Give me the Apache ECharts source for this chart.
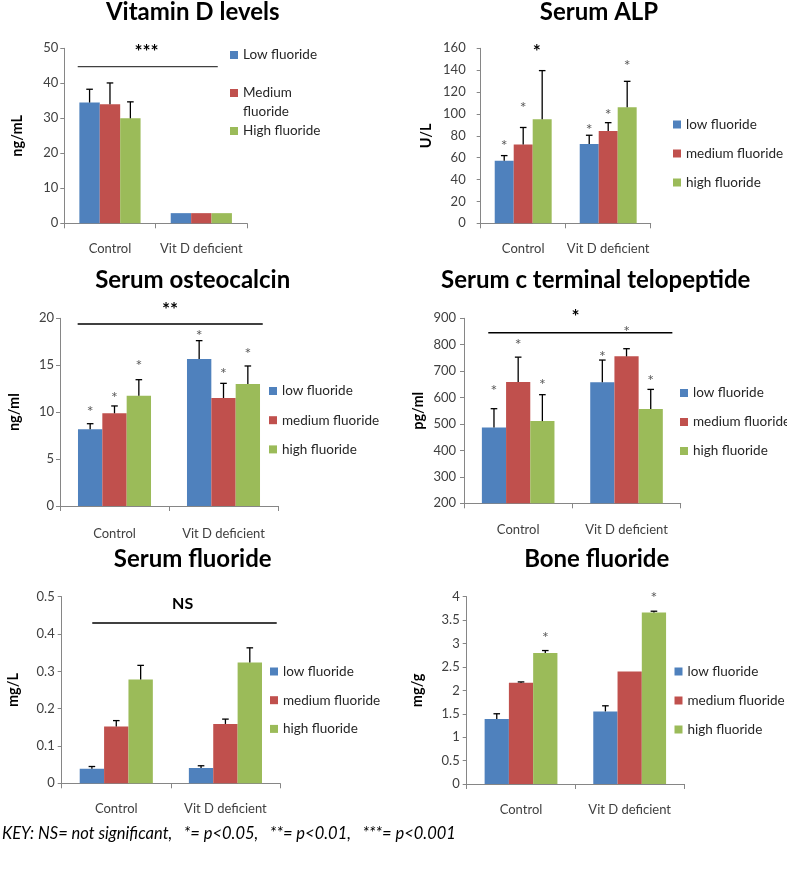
<!DOCTYPE html>
<html><head><meta charset="utf-8">
<script src="https://cdn.jsdelivr.net/npm/echarts@6/dist/echarts.min.js"></script>
<style>html,body{margin:0;padding:0;background:#fff}#c{width:787px;height:871px}</style>
</head><body><div id="c"></div>
<script>
// ---------- DATA ----------
const categories = ['Control', 'Vit D deficient'];
const namesCap = ['Low fluoride', 'Medium fluoride', 'High fluoride'];
const namesLow = ['low fluoride', 'medium fluoride', 'high fluoride'];

// Vitamin D levels (ng/mL)
const vitD_low = [34.5, 2.9];
const vitD_med = [34.0, 2.9];
const vitD_high = [30.0, 2.9];
const vitD_errLow = [38.3, null];
const vitD_errMed = [40.1, null];
const vitD_errHigh = [34.7, null];

// Serum ALP (U/L)
const alp_low = [57.3, 72.6];
const alp_med = [72.0, 84.4];
const alp_high = [95.2, 106.2];
const alp_errLow = [61.9, 80.5];
const alp_errMed = [87.6, 92.0];
const alp_errHigh = [139.6, 129.8];
const alp_starLow = [74.6, 89.0];
const alp_starMed = [108.8, 102.7];
const alp_starHigh = [null, 147.2];

// Serum osteocalcin (ng/ml)
const oc_low = [8.17, 15.67];
const oc_med = [9.88, 11.51];
const oc_high = [11.76, 13.0];
const oc_errLow = [8.77, 17.62];
const oc_errMed = [10.66, 13.07];
const oc_errHigh = [13.46, 14.92];
const oc_starLow = [10.41, 18.58];
const oc_starMed = [12.0, 14.56];
const oc_starHigh = [15.35, 16.62];

// Serum c terminal telopeptide (pg/ml)
const ctx_low = [487, 658];
const ctx_med = [659, 756];
const ctx_high = [511, 557];
const ctx_errLow = [558, 742];
const ctx_errMed = [753, 785];
const ctx_errHigh = [611, 631];
const ctx_starLow = [640, 771];
const ctx_starMed = [815, 863];
const ctx_starHigh = [664, 680];

// Serum fluoride (mg/L)
const sf_low = [0.039, 0.041];
const sf_med = [0.152, 0.159];
const sf_high = [0.278, 0.324];
const sf_errLow = [0.045, 0.047];
const sf_errMed = [0.168, 0.172];
const sf_errHigh = [0.316, 0.363];

// Bone fluoride (mg/g)
const bf_low = [1.39, 1.55];
const bf_med = [2.16, 2.40];
const bf_high = [2.80, 3.66];
const bf_errLow = [1.50, 1.67];
const bf_errMed = [2.18, null];
const bf_errHigh = [2.85, 3.69];
const bf_starHigh = [3.197, 4.07];

// Significance annotations (category-fraction positions relative to first category, value positions)
const vitD_sig = { x0: -0.353, x1: 1.18, y: 44.76, label: '***', lx: 0.40, ly: 50.45 };
const alp_sig = { x0: null, x1: null, y: null, label: '*', lx: 0.16, ly: 161.5 };
const oc_sig = { x0: -0.338, x1: 1.36, y: 19.4, label: '**', lx: 0.509, ly: 21.4 };
const ctx_sig = { x0: -0.276, x1: 1.423, y: 845.5, label: '*', lx: 0.53, ly: 925 };
const sf_sig = { x0: -0.22, x1: 1.47, y: 0.4295, label: 'NS', lx: 0.608, ly: 0.4804 };

// Axis ticks
const vitD_axis = { min: 0, max: 50, interval: 10 };
const alp_axis = { min: 0, max: 160, interval: 20 };
const oc_axis = { min: 0, max: 20, interval: 5 };
const ctx_axis = { min: 200, max: 900, interval: 100 };
const sf_axis = { min: 0, max: 0.5, interval: 0.1 };
const bf_axis = { min: 0, max: 4, interval: 0.5 };

const keyText = 'KEY: NS= not significant,   *= p<0.05,   **= p<0.01,   ***= p<0.001';

// ---------- PANELS ----------
const panels = [
  { title: 'Vitamin D levels', unit: 'ng/mL', names: namesCap, axis: vitD_axis,
    vals: [vitD_low, vitD_med, vitD_high], errs: [vitD_errLow, vitD_errMed, vitD_errHigh], stars: null, sig: vitD_sig },
  { title: 'Serum ALP', unit: 'U/L', names: namesLow, axis: alp_axis,
    vals: [alp_low, alp_med, alp_high], errs: [alp_errLow, alp_errMed, alp_errHigh], stars: [alp_starLow, alp_starMed, alp_starHigh], sig: alp_sig },
  { title: 'Serum osteocalcin', unit: 'ng/ml', names: namesLow, axis: oc_axis,
    vals: [oc_low, oc_med, oc_high], errs: [oc_errLow, oc_errMed, oc_errHigh], stars: [oc_starLow, oc_starMed, oc_starHigh], sig: oc_sig },
  { title: 'Serum c terminal telopeptide', unit: 'pg/ml', names: namesLow, axis: ctx_axis,
    vals: [ctx_low, ctx_med, ctx_high], errs: [ctx_errLow, ctx_errMed, ctx_errHigh], stars: [ctx_starLow, ctx_starMed, ctx_starHigh], sig: ctx_sig },
  { title: 'Serum fluoride', unit: 'mg/L', names: namesLow, axis: sf_axis,
    vals: [sf_low, sf_med, sf_high], errs: [sf_errLow, sf_errMed, sf_errHigh], stars: null, sig: sf_sig },
  { title: 'Bone fluoride', unit: 'mg/g', names: namesLow, axis: bf_axis,
    vals: [bf_low, bf_med, bf_high], errs: [bf_errLow, bf_errMed, bf_errHigh], stars: [[null, null], [null, null], bf_starHigh], sig: null }
];

// ---------- LAYOUT ----------
const layout = [
  { grid: [64.3, 48.3, 182.7, 175], title: [192.7, 0], legend: [230, 45.5, 19, 19], nameGap: 39, lblMargin: 6, xMargin: 19, sigColor: '#404040' },
  { grid: [480.7, 48.3, 170, 175], title: [599, 0], legend: [673, 116.5, 16, 13], nameGap: 46.7, lblMargin: 15, xMargin: 19, sigColor: '#000' },
  { grid: [60, 318.3, 218, 187.7], title: [192.7, 268], legend: [269, 383, 16, 13.2], nameGap: 38, lblMargin: 6, xMargin: 21, sigColor: '#000' },
  { grid: [464, 318.3, 216.7, 185], title: [595.7, 268], legend: [680, 385, 16, 13], nameGap: 38, lblMargin: 8, xMargin: 20, sigColor: '#000' },
  { grid: [61.7, 596.7, 218.3, 186.6], title: [192.7, 547], legend: [270, 663.5, 16, 12.7], nameGap: 41, lblMargin: 7, xMargin: 19, sigColor: '#000' },
  { grid: [466.7, 596.7, 217.3, 187.3], title: [596.7, 547], legend: [674.5, 663.5, 16, 13], nameGap: 42, lblMargin: 7, xMargin: 19, sigColor: '#000' }
];

const COLORS = ['#4F81BD', '#C0504D', '#9BBB59'];
const GAP = 0.33;
const CAP = 3.3;
const FONT = 'Lato, "Open Sans", sans-serif';
const AXIS_COLOR = '#868686';

function mkLine(x1, y1, x2, y2, color, w) {
  return { type: 'line', shape: { x1, y1, x2, y2 }, style: { stroke: color, lineWidth: w } };
}
function mkText(t, x, y, font, color) {
  return { type: 'text', x, y, style: { text: t, font, fill: color, textAlign: 'center', textVerticalAlign: 'middle' } };
}

function makeRender(pi) {
  const P = panels[pi];
  const L = layout[pi];
  return function (params, api) {
    if (params.dataIndex !== 0) return null;
    const band = api.size([1, 0])[0];
    const bw = band * (1 - GAP) / 3;
    const base = P.axis.min;
    const children = [];
    for (let k = 0; k < 3; k++) {
      for (let cat = 0; cat < 2; cat++) {
        const cx = api.coord([cat, base])[0] + (k - 1) * bw;
        const e = P.errs[k][cat];
        if (e != null) {
          const yv = api.coord([cat, P.vals[k][cat]])[1];
          const ye = api.coord([cat, e])[1];
          children.push(mkLine(cx, yv, cx, ye, '#000', 1.3));
          children.push(mkLine(cx - CAP, ye, cx + CAP, ye, '#000', 1.3));
        }
        if (P.stars) {
          const s = P.stars[k][cat];
          if (s != null) {
            const ys = api.coord([cat, s])[1];
            children.push(mkText('*', cx, ys + 4, '16px ' + FONT, '#595959'));
          }
        }
      }
    }
    if (P.sig) {
      const c0 = api.coord([0, base])[0];
      const S = P.sig;
      if (S.x0 != null) {
        const y = api.coord([0, S.y])[1];
        children.push(mkLine(c0 + S.x0 * band, y, c0 + S.x1 * band, y, L.sigColor, 1.4));
      }
      const ly = api.coord([0, S.ly])[1];
      const isStar = /^\*+$/.test(S.label);
      children.push(mkText(S.label, c0 + S.lx * band, ly + (isStar ? 5 : 0),
        'bold ' + (isStar ? 19 : 16) + 'px ' + FONT, '#000'));
    }
    return { type: 'group', children };
  };
}

const option = {
  animation: false,
  title: [], grid: [], xAxis: [], yAxis: [], legend: [], series: [],
  graphic: []
};

panels.forEach((P, pi) => {
  const L = layout[pi];
  option.title.push({
    text: P.title, left: L.title[0], top: L.title[1], textAlign: 'center', padding: 0,
    textStyle: { fontFamily: FONT, fontWeight: 'bold', fontSize: 24, color: '#000' }
  });
  option.grid.push({
    left: L.grid[0], top: L.grid[1], width: L.grid[2], height: L.grid[3],
    containLabel: false, outerBoundsMode: 'none'
  });
  option.xAxis.push({
    type: 'category', gridIndex: pi, data: categories,
    axisLine: { onZero: false, lineStyle: { color: AXIS_COLOR, width: 1 } },
    axisTick: { show: true, length: 5, alignWithLabel: false, lineStyle: { color: AXIS_COLOR } },
    axisLabel: { fontFamily: FONT, fontSize: 13, color: '#404040', margin: L.xMargin, interval: 0 },
    splitLine: { show: false }
  });
  option.yAxis.push({
    type: 'value', gridIndex: pi, min: P.axis.min, max: P.axis.max, interval: P.axis.interval,
    name: P.unit, nameLocation: 'middle', nameRotate: 90, nameGap: L.nameGap,
    nameTextStyle: { fontFamily: FONT, fontWeight: 'bold', fontSize: 14.5, color: '#000' },
    axisLine: { show: true, lineStyle: { color: AXIS_COLOR, width: 1 } },
    axisTick: { show: true, length: 4, lineStyle: { color: AXIS_COLOR } },
    axisLabel: { fontFamily: FONT, fontSize: 13, color: '#404040', margin: L.lblMargin },
    splitLine: { show: false }
  });
  option.legend.push({
    data: P.names, orient: 'vertical', left: L.legend[0], top: L.legend[1],
    itemWidth: 8, itemHeight: 8, itemGap: L.legend[3], icon: 'rect', selectedMode: false, padding: 0,
    formatter: (n) => (n === 'Medium fluoride' ? 'Medium' : n),
    textStyle: { fontFamily: FONT, fontSize: 13.5, color: '#262626', lineHeight: L.legend[2] }
  });
  for (let k = 0; k < 3; k++) {
    option.series.push({
      type: 'bar', name: P.names[k], xAxisIndex: pi, yAxisIndex: pi,
      data: P.vals[k], itemStyle: { color: COLORS[k] },
      barGap: '0%', barCategoryGap: (GAP * 100) + '%', silent: true
    });
  }
  option.series.push({
    type: 'custom', name: 'annot' + pi, xAxisIndex: pi, yAxisIndex: pi,
    data: [[0, P.axis.min]], encode: { x: 0, y: 1 }, renderItem: makeRender(pi),
    z: 5, silent: true, clip: false
  });
});

// continuation line of the two-line legend entry "Medium fluoride" (panel 1)
option.graphic.push({
  type: 'text', left: 243, top: 104.5,
  style: { text: 'fluoride', font: '13.5px ' + FONT, fill: '#262626' }
});
// key
option.graphic.push({
  type: 'text', left: 2, top: 825,
  style: { text: keyText, font: 'italic 16.5px ' + FONT, fill: '#000' }
});

const chart = echarts.init(document.getElementById('c'), null, { renderer: 'canvas' });
chart.setOption(option);
</script>
</body></html>
